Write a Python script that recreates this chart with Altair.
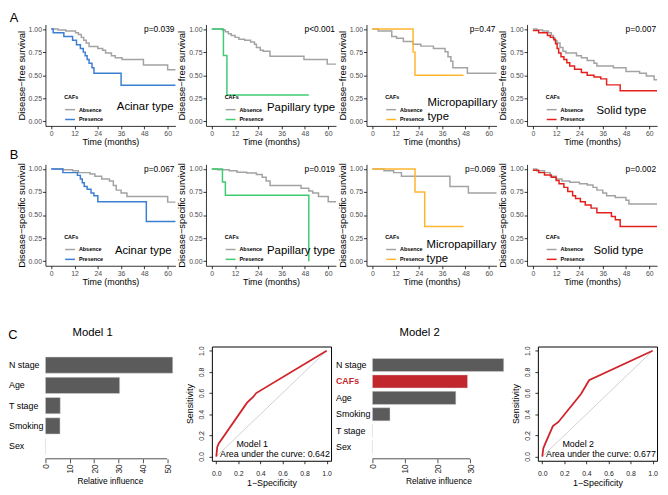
import altair as alt
import pandas as pd

FONT = "Liberation Sans"

# ---------------- data ----------------
TIME_TICKS = [0, 12, 24, 36, 48, 60]
SURV_TICKS = [0.0, 0.25, 0.5, 0.75, 1.0]
GROUPS = ["Absence", "Presence"]
TYPES = ["Acinar type", "Papillary type", ["Micropapillary", "type"], "Solid type"]

# A: disease-free survival
dfs_acinar_abs_t = [0, 3.5, 7.5, 12.5, 14, 15.5, 16.7, 18, 19.5, 24, 26.5, 28, 31, 33, 36.5, 47.5, 60, 64]
dfs_acinar_abs_s = [1.0, 0.99, 0.98, 0.96, 0.94, 0.91, 0.88, 0.85, 0.81, 0.79, 0.77, 0.74, 0.71, 0.69, 0.67, 0.61, 0.56, 0.56]
dfs_acinar_pre_t = [0, 1, 6.5, 11, 13, 15, 16.5, 17.5, 18.5, 19.5, 21, 22, 36, 64]
dfs_acinar_pre_s = [1.0, 0.96, 0.92, 0.88, 0.83, 0.79, 0.75, 0.71, 0.67, 0.63, 0.58, 0.52, 0.39, 0.39]

dfs_pap_abs_t = [0, 5.5, 7, 8.5, 10, 12, 14, 17, 20, 22, 23, 25, 26.5, 30, 47.5, 59.5, 64]
dfs_pap_abs_s = [1.0, 0.99, 0.97, 0.95, 0.93, 0.91, 0.89, 0.88, 0.86, 0.835, 0.80, 0.77, 0.76, 0.705, 0.67, 0.62, 0.62]
dfs_pap_pre_t = [0, 6, 7.8, 50]
dfs_pap_pre_s = [1.0, 0.714, 0.286, 0.286]

dfs_micro_abs_t = [0, 3, 10, 12.5, 16, 21, 25, 31.5, 37.5, 39, 40.5, 41.5, 49, 64]
dfs_micro_abs_s = [1.0, 0.98, 0.92, 0.90, 0.865, 0.835, 0.815, 0.79, 0.755, 0.70, 0.65, 0.58, 0.52, 0.52]
dfs_micro_pre_t = [0, 21, 22, 47]
dfs_micro_pre_s = [1.0, 0.75, 0.5, 0.5]

dfs_solid_abs_t = [0, 2, 5, 8, 9.5, 10.5, 11.5, 12.5, 14, 15.5, 17, 22.5, 25, 28, 31.5, 33, 41.5, 48, 55, 58.5, 62.5, 64]
dfs_solid_abs_s = [1.0, 0.99, 0.98, 0.96, 0.93, 0.90, 0.87, 0.85, 0.80, 0.76, 0.74, 0.71, 0.69, 0.66, 0.63, 0.60, 0.58, 0.54, 0.52, 0.49, 0.45, 0.45]
dfs_solid_pre_t = [0, 3, 7.5, 9, 10.8, 11.7, 12.5, 13.3, 14.5, 16, 17.5, 19, 21.5, 25, 28, 31.5, 35, 38, 45, 64]
dfs_solid_pre_s = [0.985, 0.96, 0.93, 0.91, 0.885, 0.84, 0.79, 0.74, 0.70, 0.67, 0.635, 0.60, 0.565, 0.53, 0.50, 0.48, 0.46, 0.395, 0.33, 0.33]

dfs_pvals = ["p=0.039", "p<0.001", "p=0.47", "p=0.007"]

# B: disease-specific survival
dss_acinar_abs_t = [0, 6, 11, 14, 20, 22.5, 26, 30, 32, 33.5, 36, 39, 60, 64]
dss_acinar_abs_s = [1.0, 0.99, 0.98, 0.96, 0.945, 0.92, 0.89, 0.87, 0.82, 0.77, 0.74, 0.70, 0.64, 0.64]
dss_acinar_pre_t = [0, 6, 13.5, 15, 16, 17, 18.5, 20.5, 22, 24, 49, 64]
dss_acinar_pre_s = [1.0, 0.96, 0.93, 0.89, 0.85, 0.81, 0.78, 0.74, 0.71, 0.645, 0.43, 0.43]

dss_pap_abs_t = [0, 3, 9, 13, 18, 23, 26, 28, 30, 46, 50, 52, 55, 60, 64]
dss_pap_abs_s = [1.0, 0.99, 0.98, 0.965, 0.955, 0.94, 0.91, 0.87, 0.82, 0.79, 0.76, 0.74, 0.70, 0.645, 0.645]
dss_pap_pre_t = [0, 5.5, 7, 50]
dss_pap_pre_s = [1.0, 0.857, 0.714, 0.0]

dss_micro_abs_t = [0, 6, 11, 15, 40, 49.5, 64]
dss_micro_abs_s = [1.0, 0.98, 0.96, 0.92, 0.81, 0.74, 0.74]
dss_micro_pre_t = [0, 22, 27, 47]
dss_micro_pre_s = [1.0, 0.75, 0.375, 0.375]

dss_solid_abs_t = [0, 2, 6, 9, 12, 15, 19, 24, 28, 31, 33, 36, 38, 42.5, 48, 49.5, 64]
dss_solid_abs_s = [1.0, 0.98, 0.96, 0.92, 0.89, 0.87, 0.855, 0.84, 0.825, 0.80, 0.77, 0.74, 0.71, 0.69, 0.66, 0.62, 0.62]
dss_solid_pre_t = [0, 3, 6, 9.5, 12, 13.5, 16, 18, 20.5, 22, 24.5, 27, 30, 33, 40.5, 42.5, 45, 64]
dss_solid_pre_s = [0.985, 0.96, 0.935, 0.91, 0.875, 0.84, 0.80, 0.755, 0.71, 0.68, 0.645, 0.61, 0.575, 0.525, 0.485, 0.45, 0.375, 0.375]

dss_pvals = ["p=0.067", "p=0.019", "p=0.069", "p=0.002"]

# C: relative influence and ROC
m1_vars = ["N stage", "Age", "T stage", "Smoking", "Sex"]
m1_infl = [52.3, 30.5, 6.1, 6.0, 0.0]
m1_ticks = [0, 10, 20, 30, 40, 50]
m2_vars = ["N stage", "CAFs", "Age", "Smoking", "T stage", "Sex"]
m2_infl = [40.3, 29.2, 25.6, 5.4, 0.0, 0.0]
m2_ticks = [0, 10, 20, 30]

roc1_fpr = [0.0, 0.009, 0.021, 0.279, 0.332, 0.362, 1.0]
roc1_tpr = [0.0, 0.091, 0.121, 0.509, 0.561, 0.600, 1.0]
roc2_fpr = [0.0, 0.009, 0.020, 0.096, 0.146, 0.351, 0.424, 1.0]
roc2_tpr = [0.0, 0.076, 0.106, 0.288, 0.327, 0.591, 0.721, 1.0]
ROC_TICKS = [0.0, 0.2, 0.4, 0.6, 0.8, 1.0]
DIAG = [0.0, 1.0]

# ---------------- style ----------------
GRAY = "#A3A3A3"
BLUE = "#3B7FD3"
GREEN = "#3FCB72"
ORANGE = "#FFB52E"
RED = "#E3211C"
BAR_DARK = "#5B5B5B"
BAR_RED = "#C1272D"
ROC_RED = "#D0232A"

KW, KH = 132, 103


def km_panel(abs_t, abs_s, pre_t, pre_s, color, ytitle, pval, label, lab_x, lab_y,
             lab_align, letter=None, letter_y=-7):
    df = pd.DataFrame({
        "time": abs_t + pre_t,
        "surv": abs_s + pre_s,
        "CAFs": [GROUPS[0]] * len(abs_t) + [GROUPS[1]] * len(pre_t),
    })
    curves = alt.Chart(df).mark_line(interpolate="step-after", strokeWidth=1.5).encode(
        x=alt.X("time:Q", scale=alt.Scale(domain=[-3, 64], nice=False, zero=False),
                axis=alt.Axis(values=TIME_TICKS, title="Time (months)", grid=False,
                              labelFontSize=7, labelColor="#4D4D4D", labelPadding=1,
                              labelFlush=False, labelOverlap=False, tickSize=3,
                              tickColor="black", tickWidth=0.8,
                              domainColor="black", domainWidth=0.8, titleFontSize=9,
                              titleFontWeight="normal", titleColor="black", titlePadding=1)),
        y=alt.Y("surv:Q", scale=alt.Scale(domain=[-0.05, 1.05], nice=False, zero=False),
                axis=alt.Axis(values=SURV_TICKS, format=".2f", title=ytitle, grid=False,
                              labelFontSize=7, labelColor="#4D4D4D", labelPadding=1,
                              labelFlush=False, labelOverlap=False, tickSize=3,
                              tickColor="black", tickWidth=0.8,
                              domainColor="black", domainWidth=0.8, titleFontSize=9.5,
                              titleFontWeight="normal", titleColor="black", titlePadding=2)),
        color=alt.Color("CAFs:N", scale=alt.Scale(domain=GROUPS, range=[GRAY, color]),
                        legend=alt.Legend(orient="none", legendX=19, legendY=72, title="CAFs",
                                          titleFontSize=5.5, titleFontWeight="bold",
                                          titleColor="black", labelFontSize=5.5,
                                          labelFontWeight="bold", labelColor="black",
                                          symbolType="stroke", symbolSize=100,
                                          symbolStrokeWidth=1.5, rowPadding=0,
                                          titlePadding=3, labelOffset=3, padding=0)),
    )
    ptext = alt.Chart(pd.DataFrame({"p": [pval]})).mark_text(
        align="right", baseline="middle", fontSize=8.5, color="black"
    ).encode(x=alt.value(KW - 1), y=alt.value(5), text="p:N")
    ltext = alt.Chart(pd.DataFrame({"k": [0]})).mark_text(
        text=label, align=lab_align, baseline="middle", fontSize=11.5, lineHeight=14.5, color="black"
    ).encode(x=alt.value(lab_x), y=alt.value(lab_y))
    layers = [curves, ptext, ltext]
    if letter:
        layers.append(alt.Chart(pd.DataFrame({"k": [0]})).mark_text(
            text=letter, align="center", baseline="middle", fontSize=13, color="black"
        ).encode(x=alt.value(-32), y=alt.value(letter_y)))
    return alt.layer(*layers).properties(width=KW, height=KH)


def bar_panel(vars_, vals, ticks, title, width, height, pad_outer, xmax, letter=None):
    df = pd.DataFrame({"var": vars_, "infl": vals})
    xsc = alt.Scale(domain=[0, xmax], nice=False, zero=True)
    xax = alt.Axis(values=ticks, title="Relative influence", domain=False, grid=False,
                   labelAngle=270, labelAlign="right", labelBaseline="middle",
                   labelFontSize=8.5, labelColor="#222222", labelPadding=1,
                   labelOverlap=False, labelFlush=False,
                   tickSize=4, tickColor="#222222", tickWidth=0.8,
                   titleFontSize=8.5, titleFontWeight="normal", titleColor="black",
                   titlePadding=4)
    bars = alt.Chart(df).mark_bar(stroke="#DADADA", strokeWidth=0.5).encode(
        y=alt.Y("var:N", sort=vars_,
                scale=alt.Scale(paddingInner=0.2, paddingOuter=pad_outer, align=0.7),
                axis=alt.Axis(title=None, domain=False, ticks=False, labelAlign="left",
                              labelPadding=37.5, labelFontSize=9, labelLimit=60,
                              labelColor={"condition": {"test": "datum.value === 'CAFs'", "value": BAR_RED}, "value": "black"},
                              labelFontWeight={"condition": {"test": "datum.value === 'CAFs'", "value": "bold"}, "value": "normal"})),
        x=alt.X("infl:Q", scale=xsc, axis=xax),
        color=alt.condition("datum.var === 'CAFs'", alt.value(BAR_RED), alt.value(BAR_DARK)),
    )
    axis_line = alt.Chart(pd.DataFrame({"infl": [ticks[0]], "infl_end": [ticks[-1]]})).mark_rule(
        color="#222222", strokeWidth=0.8
    ).encode(x=alt.X("infl:Q", scale=xsc, axis=xax), x2="infl_end:Q", y=alt.value(height))
    ttl = alt.Chart(pd.DataFrame({"k": [0]})).mark_text(
        text=title, align="center", baseline="middle", fontSize=11.5, color="black"
    ).encode(x=alt.value(48), y=alt.value(-14))
    layers = [bars, axis_line, ttl]
    if letter:
        layers.append(alt.Chart(pd.DataFrame({"k": [0]})).mark_text(
            text=letter, align="center", baseline="middle", fontSize=13, color="black"
        ).encode(x=alt.value(-33), y=alt.value(-12)))
    return alt.layer(*layers).properties(width=width, height=height)


RW, RH = 121, 116


def roc_panel(fpr, tpr, model_lab, auc_lab):
    sc = alt.Scale(domain=[-0.04, 1.04], nice=False, zero=False)
    xax = alt.Axis(values=ROC_TICKS, format=".1f", title="1\u2212Specificity", domain=False,
                   grid=False, tickSize=3, tickColor="black", tickWidth=0.8, labelFontSize=7,
                   labelColor="#222222", labelPadding=6, labelFlush=False, labelOverlap=False,
                   titleFontSize=9, titleFontWeight="normal", titleColor="black", titlePadding=2)
    yax = alt.Axis(values=ROC_TICKS, format=".1f", title="Sensitivity", domain=False,
                   grid=False, tickSize=3, tickColor="black", tickWidth=0.8, labelFontSize=7,
                   labelColor="#222222", labelPadding=5, labelAngle=270, labelAlign="center",
                   labelBaseline="bottom", labelFlush=False, labelOverlap=False,
                   titleFontSize=9, titleFontWeight="normal", titleColor="black", titlePadding=3)
    diag = alt.Chart(pd.DataFrame({"fpr": DIAG, "tpr": DIAG})).mark_line(
        color="#C4C4C4", strokeWidth=0.8
    ).encode(x=alt.X("fpr:Q", scale=sc, axis=xax), y=alt.Y("tpr:Q", scale=sc, axis=yax))
    curve = alt.Chart(pd.DataFrame({"fpr": fpr, "tpr": tpr})).mark_line(
        color=ROC_RED, strokeWidth=1.8
    ).encode(x=alt.X("fpr:Q", scale=sc, axis=xax), y=alt.Y("tpr:Q", scale=sc, axis=yax))
    t1 = alt.Chart(pd.DataFrame({"k": [0]})).mark_text(
        text=model_lab, align="center", baseline="middle", fontSize=9, color="black"
    ).encode(x=alt.value(41), y=alt.value(RH - 17))
    t2 = alt.Chart(pd.DataFrame({"k": [0]})).mark_text(
        text=auc_lab, align="center", baseline="middle", fontSize=9, color="black"
    ).encode(x=alt.value(64), y=alt.value(RH - 7))
    return alt.layer(diag, curve, t1, t2).properties(
        width=RW, height=RH, view=alt.ViewBackground(stroke="black", strokeWidth=1)
    )


# ---------------- rows ----------------
rowA = alt.hconcat(
    km_panel(dfs_acinar_abs_t, dfs_acinar_abs_s, dfs_acinar_pre_t, dfs_acinar_pre_s, BLUE,
             "Disease\u2212free survival", dfs_pvals[0], TYPES[0], 130, 84, "right", letter="A"),
    km_panel(dfs_pap_abs_t, dfs_pap_abs_s, dfs_pap_pre_t, dfs_pap_pre_s, GREEN,
             "Disease\u2212free survival", dfs_pvals[1], TYPES[1], 131, 85, "right"),
    km_panel(dfs_micro_abs_t, dfs_micro_abs_s, dfs_micro_pre_t, dfs_micro_pre_s, ORANGE,
             "Disease\u2212free survival", dfs_pvals[2], TYPES[2], 62, 80, "left"),
    km_panel(dfs_solid_abs_t, dfs_solid_abs_s, dfs_solid_pre_t, dfs_solid_pre_s, RED,
             "Disease\u2212free survival", dfs_pvals[3], TYPES[3], 121, 88, "right"),
    spacing=31, bounds="flush",
).resolve_scale(color="independent")

rowB = alt.hconcat(
    km_panel(dss_acinar_abs_t, dss_acinar_abs_s, dss_acinar_pre_t, dss_acinar_pre_s, BLUE,
             "Disease\u2212specific survival", dss_pvals[0], TYPES[0], 128, 88, "right",
             letter="B", letter_y=-9),
    km_panel(dss_pap_abs_t, dss_pap_abs_s, dss_pap_pre_t, dss_pap_pre_s, GREEN,
             "Disease\u2212specific survival", dss_pvals[1], TYPES[1], 131, 88, "right"),
    km_panel(dss_micro_abs_t, dss_micro_abs_s, dss_micro_pre_t, dss_micro_pre_s, ORANGE,
             "Disease\u2212specific survival", dss_pvals[2], TYPES[2], 61, 82, "left"),
    km_panel(dss_solid_abs_t, dss_solid_abs_s, dss_solid_pre_t, dss_solid_pre_s, RED,
             "Disease\u2212specific survival", dss_pvals[3], TYPES[3], 118, 88, "right"),
    spacing=31, bounds="flush",
).resolve_scale(color="independent")

BH = 114
rowC = alt.hconcat(
    alt.hconcat(
        bar_panel(m1_vars, m1_infl, m1_ticks, "Model 1", 131, BH, 0.37, 53, letter="C"),
        roc_panel(roc1_fpr, roc1_tpr, "Model 1", "Area under the curve: 0.642"),
        spacing=38, bounds="flush",
    ),
    alt.hconcat(
        bar_panel(m2_vars, m2_infl, m2_ticks, "Model 2", 134, BH, 0.52, 40.5),
        roc_panel(roc2_fpr, roc2_tpr, "Model 2", "Area under the curve: 0.677"),
        spacing=34, bounds="flush",
    ),
    spacing=3,
)

chart = alt.vconcat(
    alt.vconcat(rowA, rowB, spacing=3).resolve_scale(color="independent"),
    rowC,
    spacing=41,
).resolve_scale(color="independent").properties(padding=0).configure(
    font=FONT
).configure_view(stroke=None).configure_axis(labelOverlap=False)

chart.save("out.html", embed_options={"renderer": "svg", "actions": False})
